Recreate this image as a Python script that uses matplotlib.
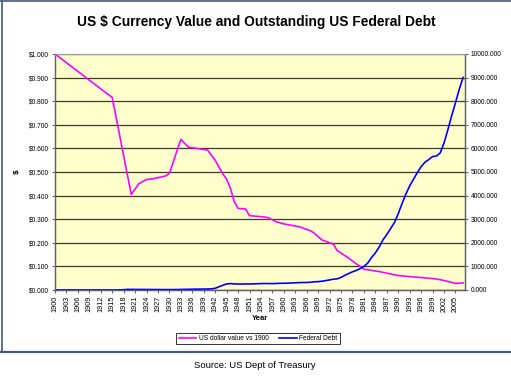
import matplotlib
matplotlib.use("Agg")
import matplotlib.pyplot as plt
from matplotlib.ticker import FuncFormatter, MultipleLocator
from matplotlib.lines import Line2D

plt.rcParams['font.family'] = ['Liberation Sans', 'DejaVu Sans']

value_years = [1900, 1913, 1915, 1920, 1922, 1924, 1926, 1929, 1930, 1933, 1935,
               1940, 1942, 1944, 1945, 1946, 1947, 1948, 1950, 1951, 1955, 1956,
               1958, 1960, 1962, 1964, 1967, 1968, 1970, 1973, 1974, 1977, 1980,
               1981, 1985, 1990, 2000, 2002, 2005, 2007]
dollar_value = [1.000, 0.840, 0.816, 0.405, 0.450, 0.468, 0.472, 0.483, 0.494, 0.638, 0.605,
                0.593, 0.550, 0.492, 0.470, 0.431, 0.375, 0.346, 0.343, 0.315, 0.309, 0.306,
                0.289, 0.280, 0.274, 0.268, 0.251, 0.240, 0.212, 0.194, 0.167, 0.135, 0.099,
                0.088, 0.078, 0.061, 0.047, 0.040, 0.028, 0.030]

# Federal debt (billions of dollars)
debt_years = list(range(1900, 2008))
federal_debt = [1.26, 1.22, 1.18, 1.16, 1.14, 1.13, 1.14, 1.15, 1.18, 1.15,
                1.15, 1.15, 1.19, 1.19, 1.19, 1.19, 1.23, 2.98, 12.46, 25.48,
                24.30, 23.98, 22.96, 22.35, 21.25, 20.52, 19.64, 18.51, 17.60, 16.93,
                16.19, 16.80, 19.49, 22.54, 27.05, 28.70, 33.78, 36.43, 37.17, 40.44,
                42.97, 48.96, 72.42, 136.70, 201.00, 258.68, 269.42, 258.29, 252.29, 252.77,
                257.36, 255.22, 259.11, 266.07, 271.26, 274.37, 272.75, 270.53, 276.34, 284.71,
                286.33, 288.97, 298.20, 305.86, 311.71, 317.27, 319.91, 326.22, 347.58, 353.72,
                370.92, 398.13, 427.26, 458.14, 475.06, 533.19, 620.43, 698.84, 771.54, 826.52,
                907.70, 997.86, 1142.03, 1377.21, 1572.27, 1823.10, 2125.30, 2350.28, 2602.34, 2857.43,
                3233.31, 3665.30, 4064.62, 4411.49, 4692.75, 4973.98, 5224.81, 5413.15, 5526.19, 5656.27,
                5674.18, 5807.46, 6228.24, 6783.23, 7379.05, 7932.71, 8506.97, 9007.65]

x_tick_years = list(range(1900, 2008, 3))

W, H = 511, 377
fig = plt.figure(figsize=(W / 100, H / 100), dpi=100)
fig.patch.set_facecolor('white')

ax = fig.add_axes([55 / W, 1 - 290 / H, 410 / W, 236 / H])
ax.set_facecolor('#FFFFCC')
ax2 = ax.twinx()
ax2.patch.set_visible(False)

ax.set_xlim(1900, 2007.5)
ax.set_ylim(0, 1.0)
ax2.set_ylim(0, 10000)

ax.yaxis.set_major_locator(MultipleLocator(0.1))
ax2.yaxis.set_major_locator(MultipleLocator(1000))
ax.yaxis.set_major_formatter(FuncFormatter(lambda v, p: "$%.3f" % v))
ax2.yaxis.set_major_formatter(FuncFormatter(lambda v, p: "%.3f" % v))
ax.set_xticks(x_tick_years)
ax.set_xticklabels([str(y) for y in x_tick_years], rotation=90, fontsize=5.2)

ax.grid(axis='y', color='#3a3a30', linewidth=0.9)
ax.set_axisbelow(True)

for a in (ax, ax2):
    a.tick_params(axis='both', length=2.5, width=0.7, color='#606060', labelsize=4.8, pad=1.5)
    for s in ('left', 'right', 'bottom'):
        a.spines[s].set_color('#606060')
        a.spines[s].set_linewidth(0.9)
    a.spines['top'].set_color('#a0a0a0')
    a.spines['top'].set_linewidth(0.8)
ax.tick_params(axis='x', labelsize=5.2, pad=1.5)

l1, = ax.plot(value_years, dollar_value, color='#FF00FF', linewidth=1.2)
l2, = ax2.plot(debt_years, federal_debt, color='#0000FF', linewidth=1.2)

fig.text(256 / W, 1 - 22 / H, "US $ Currency Value and Outstanding US Federal Debt",
         ha='center', va='center', fontsize=9.9, fontweight='bold')
fig.text(17 / W, 1 - 172 / H, "$", ha='center', va='center', fontsize=6,
         fontweight='bold', rotation=90)
fig.text(260 / W, 1 - 318 / H, "Year", ha='center', va='center', fontsize=5.5,
         fontweight='bold')

handles = [Line2D([], [], color='#FF00FF', linewidth=1.2),
           Line2D([], [], color='#0000FF', linewidth=1.2)]
leg = fig.legend(handles, ["US dollar value vs 1900", "Federal Debt"],
                 loc='center', bbox_to_anchor=(258 / W, 1 - 338.5 / H),
                 ncol=2, fontsize=4.8, frameon=True, fancybox=False,
                 edgecolor='black', handlelength=2.6, handletextpad=0.4,
                 columnspacing=1.6, borderpad=0.35)
leg.get_frame().set_linewidth(0.7)

# chart frame
frame_color = '#4a5a72'
fig.add_artist(Line2D([0, 1], [1 - 351.5 / H, 1 - 351.5 / H], transform=fig.transFigure,
                      color=frame_color, linewidth=1.6))
fig.add_artist(Line2D([1.5 / W, 1.5 / W], [1 - 351.5 / H, 1], transform=fig.transFigure,
                      color=frame_color, linewidth=1.2))
fig.add_artist(Line2D([0, 1], [1 - 1 / H, 1 - 1 / H], transform=fig.transFigure,
                      color=frame_color, linewidth=1.2))

fig.text(255 / W, 1 - 365 / H, "Source: US Dept of Treasury", ha='center', va='center',
         fontsize=6.8)

fig.savefig("out.png", dpi=100)
